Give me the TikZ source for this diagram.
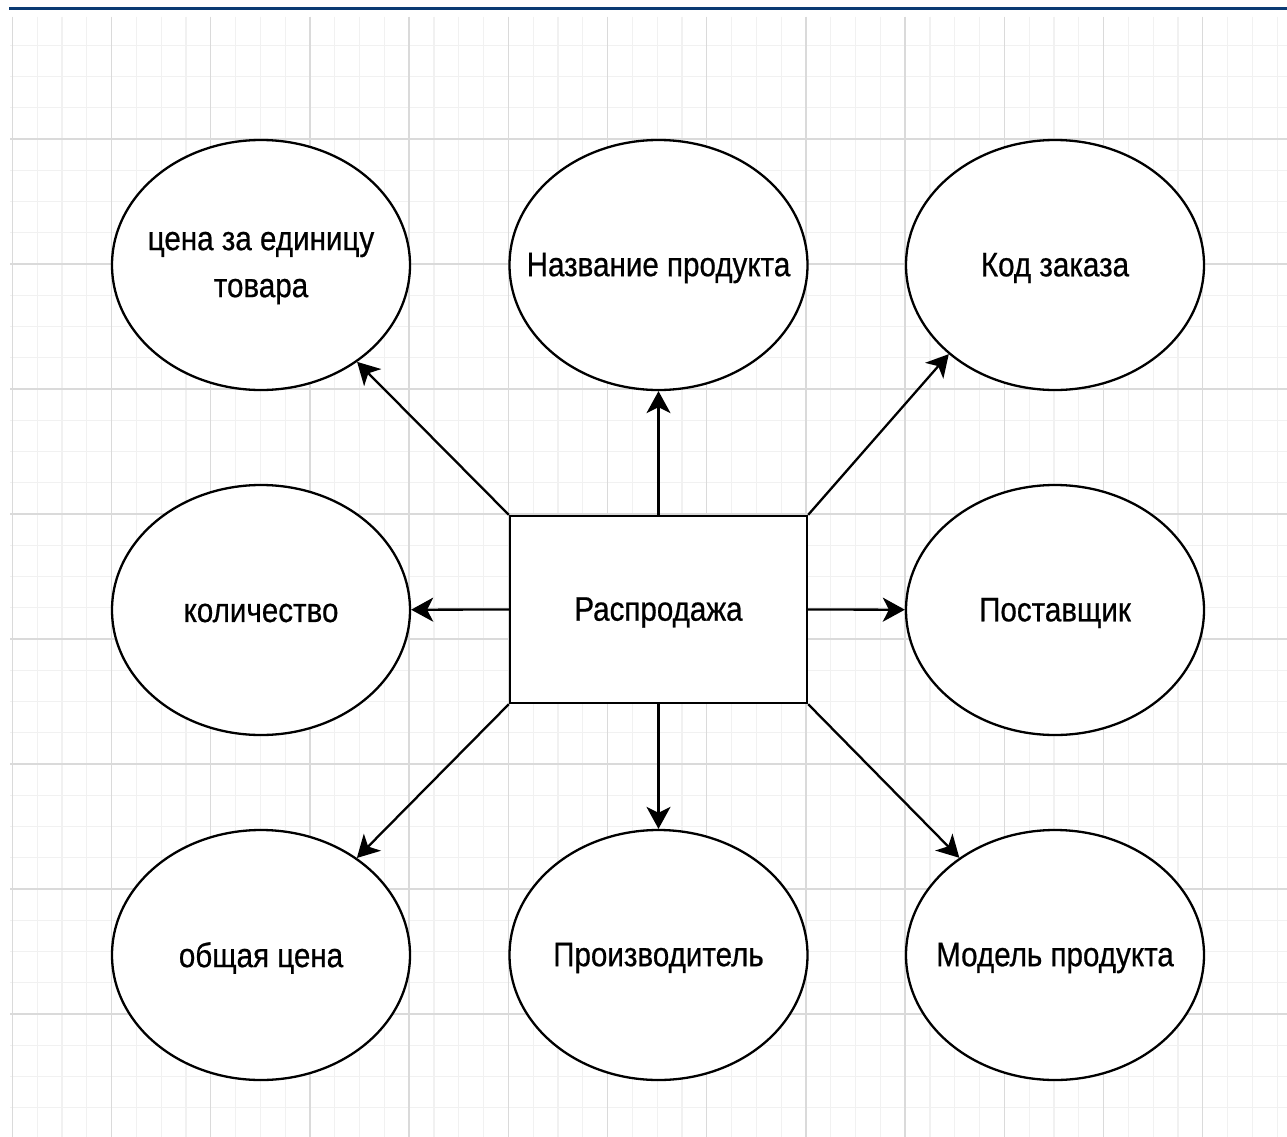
\documentclass[tikz,border=0pt]{standalone}
\usepackage{fontspec}
\setmainfont{Liberation Sans}[FakeStretch=0.87,FakeBold=0.6]
\usetikzlibrary{shapes.geometric,arrows.meta}
\definecolor{barblue}{HTML}{0B3A73}
\definecolor{minorg}{HTML}{F1F1F1}
\definecolor{majorg}{HTML}{DADADA}
\tikzset{
  minorgrid/.style={draw=minorg,line width=1.2pt},
  majorgrid/.style={draw=majorg,line width=1.4pt},
  attr/.style={ellipse,draw=black,line width=2.3pt,fill=white,minimum width=298pt,minimum height=250pt,inner sep=0pt},
  entity/.style={rectangle,draw=black,line width=2.3pt,fill=white,minimum width=297pt,minimum height=187pt,inner sep=0pt},
  lbl/.style={align=center,inner sep=0pt,font=\fontsize{34}{47}\selectfont},
  conn/.style={line width=2.3pt,-{Stealth[length=22pt,width=24pt,inset=6pt]}}
}
\begin{document}
\begin{tikzpicture}[x=1pt,y=-1pt]
\useasboundingbox (0,0) rectangle (1287,1137);
\fill[white] (0,0) rectangle (1287,1137);
% grid
\foreach \i in {0,...,51} \draw[minorgrid] ({12.3+\i*24.8},17) -- ({12.3+\i*24.8},1137);
\foreach \i in {1,...,35} \draw[minorgrid] (10,{14+\i*31.25}) -- (1287,{14+\i*31.25});
\foreach \i in {0,...,12} \draw[majorgrid] ({12.3+\i*99.2},17) -- ({12.3+\i*99.2},1137);
\foreach \i in {1,...,8} \draw[majorgrid] (10,{14+\i*125}) -- (1287,{14+\i*125});
% top bar
\fill[barblue] (9,6.7) rectangle (1287,10);
% nodes
\node[entity] (s) at (658.5,609.5) {};
\node[attr] (e1) at (261,265) {};
\node[attr] (e2) at (658.5,265) {};
\node[attr] (e3) at (1055,265) {};
\node[attr] (e4) at (261,610) {};
\node[attr] (e5) at (1055,610) {};
\node[attr] (e6) at (261,955) {};
\node[attr] (e7) at (658.5,955) {};
\node[attr] (e8) at (1055,955) {};
% labels
\node[lbl] (ts) at ([yshift=-3pt]s.center) {Распродажа};
\node[lbl] (t1) at ([yshift=-3pt]e1.center) {цена за единицу\\товара};
\node[lbl] (t2) at ([yshift=-3pt]e2.center) {Название продукта};
\node[lbl] (t3) at ([yshift=-3pt]e3.center) {Код заказа};
\node[lbl] (t4) at ([yshift=-3pt]e4.center) {количество};
\node[lbl] (t5) at ([yshift=-3pt]e5.center) {Поставщик};
\node[lbl] (t6) at ([yshift=-3pt]e6.center) {общая цена};
\node[lbl] (t7) at ([yshift=-3pt]e7.center) {Производитель};
\node[lbl] (t8) at ([yshift=-3pt]e8.center) {Модель продукта};
% connectors
\draw[conn] (s.north west) -- (e1);
\draw[conn] (s.north) -- (e2);
\draw[conn] (s.north east) -- (e3.220);
\draw[conn] (s.west) -- (e4);
\draw[conn] (s.east) -- (e5);
\draw[conn] (s.south west) -- (e6);
\draw[conn] (s.south) -- (e7);
\draw[conn] (s.south east) -- (e8);
\end{tikzpicture}
\end{document}
